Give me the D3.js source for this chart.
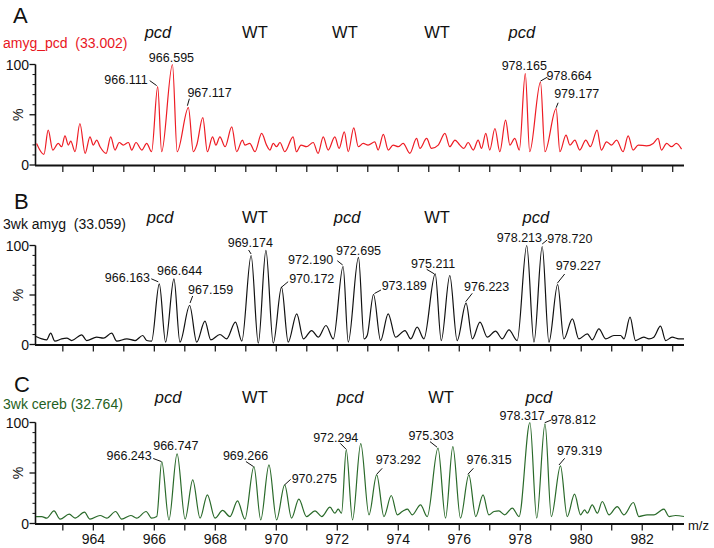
<!DOCTYPE html>
<html><head><meta charset="utf-8">
<script src="https://cdn.jsdelivr.net/npm/d3@7"></script>
<style>
html,body{margin:0;padding:0;background:#fff;}
svg{display:block;font-family:"Liberation Sans",Arial,sans-serif;}
</style></head>
<body><svg id="chart" width="714" height="548"></svg>
<script>
// ---------------- DATA ----------------
const panelIds = ["A", "B", "C"];
const sampleNames = ["amyg_pcd  (33.002)", "3wk amyg  (33.059)", "3wk cereb (32.764)"];
const xTicks = d3.range(963, 984);
const xTickLabels = [964, 966, 968, 970, 972, 974, 976, 978, 980, 982];
const yTickMajor = [0, 50, 100];
const yTickMinor = [10, 20, 30, 40, 60, 70, 80, 90];
const yLabels = [[100, "100"], [0, "0"]];

// genotype annotations: [label, m/z]
const genoA = [["pcd", 966.12], ["WT", 969.30], ["WT", 972.25], ["WT", 975.27], ["pcd", 978.05]];
const genoB = [["pcd", 966.19], ["WT", 969.30], ["pcd", 972.32], ["WT", 975.27], ["pcd", 978.51]];
const genoC = [["pcd", 966.45], ["WT", 969.30], ["pcd", 972.42], ["WT", 975.40], ["pcd", 978.61]];

// spectra: [m/z, relative intensity %]
const traceA = [
[962.14,21.5],[962.38,10.6],[962.52,34.7],[962.67,14.9],[962.85,21.5],[962.96,18.2],[963.07,29],[963.18,19.8],
[963.26,23.8],[963.40,13.2],[963.56,41.3],[963.73,11.6],[963.89,28],[964.00,19.8],[964.11,24.8],[964.22,18.2],
[964.42,11.6],[964.57,28],[964.71,14.9],[964.85,22.4],[964.98,19.8],[965.15,22.4],[965.26,14.9],[965.40,22.4],
[965.59,14.9],[965.75,21.5],[965.91,13.2],[966.111,78],[966.24,13.2],[966.595,100],[966.75,13.2],[967.117,57],
[967.28,13.2],[967.39,19.8],[967.59,47.2],[967.74,13.2],[967.91,28],[968.02,19.8],[968.15,28],[968.32,18.2],
[968.54,38],[968.70,13.2],[968.89,24.8],[968.97,19.8],[969.13,21.5],[969.30,13.2],[969.52,31.4],[969.68,19.8],
[969.79,14.9],[969.90,21.5],[970.01,18.2],[970.12,22.4],[970.28,13.2],[970.55,28],[970.66,13.2],[970.81,19.8],
[970.99,18.2],[971.21,22.4],[971.37,11.6],[971.54,28],[971.70,14.9],[971.92,28],[972.06,16.5],[972.23,33],
[972.36,13.2],[972.54,37],[972.69,18.2],[972.85,21.5],[973.01,19.8],[973.23,23],[973.34,14.9],[973.51,30.4],
[973.67,14.9],[973.83,19.8],[974.00,18.2],[974.16,21.5],[974.38,11.6],[974.60,26.4],[974.71,16.5],[974.93,26.4],
[975.09,16.5],[975.31,19.8],[975.53,31.4],[975.69,18.2],[975.86,24.8],[976.02,19.8],[976.15,16.5],[976.29,22.4],
[976.46,14.9],[976.62,24.8],[976.73,16.5],[976.87,31.4],[977.00,14.9],[977.17,36.3],[977.33,13.2],[977.52,44.6],
[977.66,19.8],[977.82,26.4],[977.97,14.9],[978.165,91],[978.31,13.2],[978.664,82.5],[978.81,13.2],[979.177,56],
[979.30,13.2],[979.50,29.7],[979.63,19.8],[979.79,24.8],[979.95,14.9],[980.15,24.8],[980.30,18.2],[980.52,34.7],
[980.66,14.9],[980.83,23.1],[980.99,19.8],[981.16,24.8],[981.37,13.2],[981.54,29],[981.70,14.9],[981.87,19.8],
[982.14,19.1],[982.36,21.5],[982.52,26.4],[982.63,14.9],[982.80,21.5],[982.96,18.2],[983.12,21.5],[983.29,15.8]
];
const traceB = [
[962.12,8.1],[962.31,5.7],[962.47,4.7],[962.60,11.4],[962.74,3.4],[962.96,5.7],[963.13,6.4],[963.29,4],
[963.62,9.8],[963.78,4],[964.11,7.4],[964.33,6.4],[964.60,11.4],[964.77,3.4],[965.10,5.7],[965.37,4],
[965.62,9.1],[965.75,4],[965.91,3.4],[966.163,61.3],[966.37,2.4],[966.644,66.3],[966.84,2.4],[967.159,39.4],
[967.39,2.4],[967.66,23.6],[967.85,4.7],[968.15,10.1],[968.37,5.7],[968.66,22.6],[968.87,3.4],[969.174,89.9],
[969.41,1.3],[969.66,95],[969.90,1.3],[970.172,57.9],[970.39,2.4],[970.67,31],[970.89,5.7],[971.16,14.1],
[971.38,7.4],[971.63,19.2],[971.87,5.7],[972.190,78.8],[972.36,2.4],[972.695,88],[972.88,5.7],[972.98,9.1],
[973.189,50.5],[973.42,4],[973.67,31],[973.91,7.4],[974.22,14.1],[974.41,5.7],[974.62,17.5],[974.84,5.7],
[975.211,71.4],[975.41,4],[975.69,69.7],[975.93,4],[976.223,41.8],[976.43,5.7],[976.68,22.6],[976.92,7.4],
[977.19,13.5],[977.41,5.7],[977.63,14.8],[977.90,4],[978.213,100],[978.45,2.4],[978.720,99],[978.94,2.4],
[979.227,60.6],[979.43,5.7],[979.71,25.9],[979.92,5.7],[980.20,10.8],[980.36,4.7],[980.58,15.8],[980.80,5.7],
[981.07,9.1],[981.29,9.1],[981.40,5.7],[981.60,27.6],[981.78,4],[982.05,7.4],[982.22,5.7],[982.38,7.4],
[982.60,18.5],[982.77,4],[982.98,7.4],[983.20,5.7],[983.37,5.7]
];
const traceC = [
[962.12,6.9],[962.31,6.9],[962.47,5.3],[962.71,12.5],[962.91,4.3],[963.21,9.2],[963.40,5.3],[963.71,11.2],
[963.89,4.3],[964.22,7.9],[964.44,5.3],[964.73,11.9],[964.93,4.3],[965.23,7.9],[965.42,5.3],[965.73,11.9],
[965.91,5.3],[966.08,6.9],[966.243,61.4],[966.48,3.6],[966.747,69],[967.01,4.3],[967.26,43.2],[967.50,5.3],
[967.74,28.4],[967.99,5.3],[968.24,12.9],[968.48,6.9],[968.73,22.4],[968.97,4.3],[969.266,56.4],[969.49,3.6],
[969.76,58.1],[970.01,3.6],[970.275,38.3],[970.50,5.3],[970.74,24.1],[970.99,6.9],[971.27,12.5],[971.49,6.9],
[971.76,16.2],[971.92,10.2],[972.03,14.2],[972.14,10.2],[972.294,72.9],[972.50,3.6],[972.77,79],[973.04,8.6],
[973.292,48.2],[973.53,6.9],[973.77,27.7],[973.97,8.6],[974.13,11.9],[974.30,14.2],[974.46,8.6],[974.73,18.5],
[974.95,6.9],[975.303,74.6],[975.55,5.3],[975.79,76.2],[976.04,5.3],[976.315,48.2],[976.54,6.9],[976.78,28.4],
[976.97,8.6],[977.14,11.9],[977.30,12.5],[977.49,8.6],[977.74,15.2],[977.96,6.9],[978.317,100],[978.54,5.3],
[978.812,98.7],[979.02,6.9],[979.319,57.1],[979.54,6.9],[979.78,29],[979.98,8.6],[980.11,13.5],[980.20,10.2],
[980.36,18.5],[980.53,10.2],[980.69,21.8],[980.91,8.6],[981.18,16.8],[981.40,8.6],[981.71,20.8],[981.89,6.9],
[982.16,8.6],[982.38,8.6],[982.71,14.2],[982.88,6.9],[983.09,7.9],[983.37,6.9]
];

// labelled peaks: [m/z, intensity %]
const peaksA = [[966.111, 78], [966.595, 100], [967.117, 57], [978.165, 91], [978.664, 82.5], [979.177, 56]];
const peaksB = [[966.163, 61.3], [966.644, 66.3], [967.159, 39.4], [969.174, 89.9], [970.172, 57.9], [972.190, 78.8],
                [972.695, 88], [973.189, 50.5], [975.211, 71.4], [976.223, 41.8], [978.213, 100], [978.720, 99], [979.227, 60.6]];
const peaksC = [[966.243, 61.4], [966.747, 69], [969.266, 56.4], [970.275, 38.3], [972.294, 72.9], [973.292, 48.2],
                [975.303, 74.6], [976.315, 48.2], [978.317, 100], [978.812, 98.7], [979.319, 57.1]];

// ---------------- LAYOUT (label placement relative to peak top) ----------------
// [anchor, dx, dy, leader [x1,y1,x2,y2] or null]
const placeA = [
  ["end", -10, -3, [-8, -6, -1, -1]],
  ["middle", -1, -3, null],
  ["start", -1, -11, [1, -9, -1, -2]],
  ["middle", -1, -4, null],
  ["start", 6, -2.5, [7, -5, 0, -1]],
  ["start", -2, -11, [2, -6, 0, -1]]
];
const placeB = [
  ["end", -9.3, -2, [-8, -5, -1, -2]],
  ["middle", 5.6, -3.7, null],
  ["start", -1.6, -11.7, [3, -9.5, 0.4, -2.5]],
  ["middle", -0.8, -8.3, [-2.5, -5.5, 0, -1.5]],
  ["start", 7.6, -3.7, [6.6, -5.5, 0, 0]],
  ["end", -9.8, -2.5, [-5.8, -5.8, -0.4, -1.5]],
  ["middle", 0, -2.1, null],
  ["start", 8.1, -4.2, [7.4, -4.5, 0.9, -1]],
  ["middle", -2, -6, [-8.5, -4.5, -1, 0]],
  ["start", -2, -11.8, [6.2, -9.8, -0.4, -1.4]],
  ["middle", -7.3, -3.8, null],
  ["start", 5, -3.5, [5, -6.5, 0, -2.5]],
  ["start", -2, -14.7, [7, -10.5, -0.4, -1.2]]
];
const placeC = [
  ["end", -10, -1, [-8.5, -3, -0.5, 0]],
  ["middle", -1.3, -3.5, null],
  ["middle", -8.4, -7, [-8, -5, -0.5, 0]],
  ["start", 7, -2, [6, -5.5, 0, 0]],
  ["middle", -10.5, -8, [-6, -6.5, 0, -0.5]],
  ["start", -1, -11, [5.5, -6.5, 0, -0.5]],
  ["middle", -7, -7.7, [-8, -6.5, -1, -1]],
  ["start", -2.3, -11, [4.5, -6.5, -1, -0.5]],
  ["middle", -7.7, -2.3, null],
  ["start", 5.7, 0, [6.3, -3.8, -0.3, -1.1]],
  ["start", -3.5, -11.3, [4.2, -7.5, -1.5, -0.8]]
];

const panels = [
  {id: panelIds[0], name: sampleNames[0], trace: traceA, peaks: peaksA, place: placeA, geno: genoA,
   top: 64.5, bottom: 165, color: "#ee1c24", textColor: "#e8161e", letterY: 23, letterX: 13, nameY: 48.3, genoY: 37.5, xLabels: false},
  {id: panelIds[1], name: sampleNames[1], trace: traceB, peaks: peaksB, place: placeB, geno: genoB,
   top: 245.5, bottom: 344.5, color: "#111111", textColor: "#111111", letterY: 209, letterX: 14, nameY: 228.5, genoY: 223, xLabels: false},
  {id: panelIds[2], name: sampleNames[2], trace: traceC, peaks: peaksC, place: placeC, geno: genoC,
   top: 422.5, bottom: 523.5, color: "#2a6a2a", textColor: "#1f5f22", letterY: 391.5, letterX: 14, nameY: 409, genoY: 402.5, xLabels: true}
];

// ---------------- DRAW ----------------
const svg = d3.select("#chart");
const x = d3.scaleLinear().domain([962.12, 983.37]).range([36, 684]);

panels.forEach(p => {
  const y = d3.scaleLinear().domain([0, 100]).range([p.bottom, p.top]);
  const g = svg.append("g");

  // panel letter
  g.append("text").attr("x", p.letterX).attr("y", p.letterY)
    .attr("font-size", 22).attr("fill", "#111").text(p.id);
  // sample name
  g.append("text").attr("x", 3).attr("y", p.nameY)
    .attr("font-size", 14).attr("fill", p.textColor)
    .style("white-space", "pre").text(p.name);
  // genotype annotations
  g.selectAll("text.geno").data(p.geno).join("text").attr("class", "geno")
    .attr("x", d => x(d[1])).attr("y", p.genoY)
    .attr("text-anchor", "middle").attr("font-size", 16.5).attr("fill", "#111")
    .attr("font-style", d => d[0] === "pcd" ? "italic" : "normal")
    .text(d => d[0]);

  // y axis
  g.append("line").attr("x1", 35.5).attr("x2", 35.5).attr("y1", y(100)).attr("y2", p.bottom)
    .attr("stroke", "#111").attr("stroke-width", 1.6);
  g.selectAll("line.ymaj").data(yTickMajor).join("line").attr("class", "ymaj")
    .attr("x1", 29.5).attr("x2", 35.5).attr("y1", d => y(d)).attr("y2", d => y(d))
    .attr("stroke", "#111").attr("stroke-width", 1.3);
  g.selectAll("line.ymin").data(yTickMinor).join("line").attr("class", "ymin")
    .attr("x1", 32.5).attr("x2", 35.5).attr("y1", d => y(d)).attr("y2", d => y(d))
    .attr("stroke", "#111").attr("stroke-width", 1);
  g.selectAll("text.ylab").data(yLabels).join("text").attr("class", "ylab")
    .attr("x", 29).attr("y", d => y(d[0]) + 5)
    .attr("text-anchor", "end").attr("font-size", 14).attr("fill", "#111").text(d => d[1]);
  g.append("text").attr("transform", `translate(23,${y(50)}) rotate(-90)`)
    .attr("text-anchor", "middle").attr("font-size", 14).attr("fill", "#111").text("%");

  // x axis
  g.append("line").attr("x1", 35).attr("x2", 684).attr("y1", p.bottom + 0.5).attr("y2", p.bottom + 0.5)
    .attr("stroke", "#111").attr("stroke-width", 2);
  g.selectAll("line.xt").data(xTicks).join("line").attr("class", "xt")
    .attr("x1", d => x(d)).attr("x2", d => x(d)).attr("y1", p.bottom).attr("y2", p.bottom + 7)
    .attr("stroke", "#111").attr("stroke-width", 1.2);
  if (p.xLabels) {
    g.selectAll("text.xl").data(xTickLabels).join("text").attr("class", "xl")
      .attr("x", d => x(d)).attr("y", p.bottom + 20.5)
      .attr("text-anchor", "middle").attr("font-size", 14).attr("fill", "#111").text(d => d);
    g.append("text").attr("x", 688).attr("y", p.bottom + 6).attr("font-size", 13)
      .attr("fill", "#111").text("m/z");
  }

  // spectrum trace
  const line = d3.line().x(d => x(d[0])).y(d => y(d[1])).curve(d3.curveMonotoneX);
  g.append("path").datum(p.trace).attr("d", line)
    .attr("fill", "none").attr("stroke", p.color).attr("stroke-width", 1.2);

  // peak labels
  p.peaks.forEach((pk, i) => {
    const pl = p.place[i];
    const px = x(pk[0]), py = y(pk[1]);
    g.append("text").attr("x", px + pl[1]).attr("y", py + pl[2])
      .attr("text-anchor", pl[0]).attr("font-size", 12.5).attr("fill", "#111")
      .text(pk[0].toFixed(3));
    if (pl[3]) {
      g.append("line").attr("x1", px + pl[3][0]).attr("y1", py + pl[3][1])
        .attr("x2", px + pl[3][2]).attr("y2", py + pl[3][3])
        .attr("stroke", "#111").attr("stroke-width", 1);
    }
  });
});
</script>
</body></html>
